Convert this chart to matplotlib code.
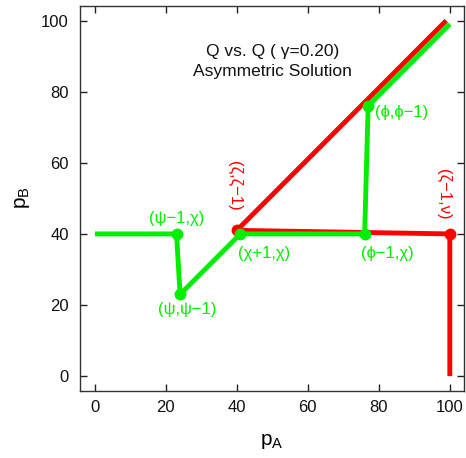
import matplotlib
matplotlib.use("Agg")
import matplotlib.pyplot as plt

plt.rcParams['font.family'] = ['Liberation Sans', 'DejaVu Sans']
plt.rcParams['mathtext.fontset'] = 'custom'
plt.rcParams['mathtext.rm'] = 'Liberation Sans'
plt.rcParams['mathtext.it'] = 'Liberation Sans'

# Data
red_x = [100, 100, 40, 99]
red_y = [0, 40, 41, 100]
red_pts_x = [40, 100]
red_pts_y = [41, 40]

green_x = [0, 23, 24, 41, 76, 77, 100]
green_y = [40, 40, 23, 40, 40, 76, 99]
green_pts_x = [23, 24, 41, 76, 77]
green_pts_y = [40, 23, 40, 40, 76]

green_labels = ["(ψ−1,χ)", "(ψ,ψ−1)", "(χ+1,χ)", "(ϕ−1,χ)", "(ϕ,ϕ−1)"]
green_label_xy = [(23, 44.3), (26, 18.6), (47.6, 34.6), (82.4, 34.6), (78.8, 74.1)]
green_label_ha = ['center', 'center', 'center', 'center', 'left']
red_labels = ["(ζ,ζ−1)", "(ζ−1,ν)"]
red_label_xy = [(39.4, 53.5), (98.1, 51)]

title_lines = ["Q vs. Q ( γ=0.20)", "Asymmetric Solution"]
ticks = [0, 20, 40, 60, 80, 100]

RED = '#ff0000'
GREEN = '#00ee00'

fig = plt.figure(figsize=(4.66, 4.58), dpi=100)
ax = fig.add_axes([80/466, 1-390.7/458, 384/466, 384.7/458])

ax.plot(red_x, red_y, color=RED, lw=3.5, solid_capstyle='butt', zorder=2)
ax.plot(green_x, green_y, color=GREEN, lw=3.5, solid_capstyle='butt', zorder=3)
ax.plot(red_pts_x, red_pts_y, 'o', color=RED, ms=7.5, zorder=4)
ax.plot(green_pts_x, green_pts_y, 'o', color=GREEN, ms=7.5, zorder=5)

for t, (x, y), ha in zip(green_labels, green_label_xy, green_label_ha):
    ax.text(x, y, t, color=GREEN, fontsize=12, ha=ha, va='center')
for t, (x, y) in zip(red_labels, red_label_xy):
    ax.text(x, y, t, color=RED, fontsize=12, ha='center', va='center', rotation=-90)

ax.text(50, 91.3, title_lines[0], fontsize=12.5, ha='center', va='center', color='#111111')
ax.text(50, 85.6, title_lines[1], fontsize=12.5, ha='center', va='center', color='#111111')

ax.set_xlim(-4.2, 104)
ax.set_ylim(-4.1, 104.1)
ax.set_xticks(ticks)
ax.set_yticks(ticks)
ax.tick_params(direction='in', length=5, width=1, top=True, right=True,
               labelsize=12, colors='#222222', labelcolor='#111111', pad=8)
ax.tick_params(axis='x', pad=7)
for s in ax.spines.values():
    s.set_color('#333333')
    s.set_linewidth(1)

fig.text(271.7/466, 1-441.7/458, r'$\mathregular{p_A}$', fontsize=15, ha='center', va='center')
fig.text(23/466, 1-198/458, r'$\mathregular{p_B}$', fontsize=15, ha='center', va='center', rotation=90)

fig.savefig('out.png', dpi=100)
